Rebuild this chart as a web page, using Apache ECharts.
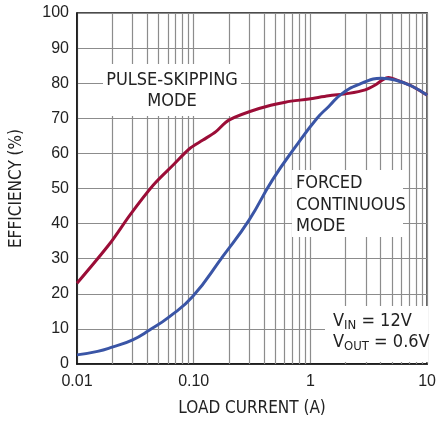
<!DOCTYPE html>
<html>
<head>
<meta charset="utf-8">
<script src="https://cdn.jsdelivr.net/npm/echarts@6/dist/echarts.min.js"></script>
<style>
  html, body { margin: 0; padding: 0; background: #fff; }
  #chart { width: 439px; height: 423px; }
</style>
</head>
<body>
<div id="chart"></div>
<script>
// load current (A) and efficiency (%)
const pulseLoad = [0.01, 0.0192, 0.0285, 0.0451, 0.0667, 0.0925, 0.12, 0.155, 0.2, 0.363, 0.61, 0.97, 1.43, 2.12, 2.95, 3.59, 4.22, 4.66, 5.31, 7.36, 10]
const pulseEff = [23, 34.4, 42.5, 51, 56.7, 61.4, 63.8, 66.2, 69.5, 72.8, 74.6, 75.5, 76.4, 77.1, 78.1, 79.5, 81.1, 81.6, 81.1, 79.2, 76.6]

const forcedLoad = [0.01, 0.015, 0.02, 0.03, 0.0419, 0.0621, 0.098, 0.177, 0.298, 0.472, 0.746, 1.14, 1.43, 1.88, 2.76, 4.07, 5.31, 7.36, 10]
const forcedEff = [2.6, 3.6, 4.8, 6.9, 9.7, 13.5, 19.2, 30.6, 41, 52.4, 61.9, 70, 73.3, 77.1, 80, 81.4, 80.9, 79.2, 76.6]

// minor vertical grid lines of the log axis
const minorTicks = [0.02, 0.03, 0.04, 0.05, 0.06, 0.07, 0.08, 0.09,
  0.2, 0.3, 0.4, 0.5, 0.6, 0.7, 0.8, 0.9,
  2, 3, 4, 5, 6, 7, 8, 9]
const xTickLabels = { 0.01: '0.01', 0.1: '0.10', 1: '1', 10: '10' }

const narrow = '"Liberation Sans Narrow", "DejaVu Sans Condensed", sans-serif'
const gridGray = '#8c8c8c'
const ink = '#222'

const chart = echarts.init(document.getElementById('chart'), null, { renderer: 'canvas' })

// white box with text over the grid lines
function labelBox(box, text) {
  return [
    { type: 'rect', zlevel: 1, z: 1, silent: true, shape: box, style: { fill: '#fff' } },
    Object.assign({ type: 'text', zlevel: 1, z: 2, silent: true }, text)
  ]
}

chart.setOption({
  backgroundColor: '#fff',
  animation: false,
  grid: {
    left: 77,
    top: 13,
    right: 10,
    bottom: 59,
    show: true,
    borderColor: '#111',
    borderWidth: 1.5
  },
  xAxis: {
    type: 'log',
    logBase: 10,
    min: 0.01,
    max: 10,
    name: 'LOAD CURRENT (A)',
    nameLocation: 'middle',
    nameGap: 36,
    nameTextStyle: { fontFamily: narrow, fontSize: 17, color: ink },
    axisLine: { show: true, lineStyle: { color: '#111', width: 1.5 } },
    axisTick: { show: false },
    axisLabel: {
      margin: 10,
      fontFamily: 'Liberation Sans, Arial, sans-serif',
      fontSize: 16,
      color: ink,
      formatter: v => xTickLabels[+v.toPrecision(3)] || ''
    },
    splitLine: { show: true, lineStyle: { color: gridGray, width: 1.2 } }
  },
  yAxis: {
    type: 'value',
    min: 0,
    max: 100,
    interval: 10,
    name: 'EFFICIENCY (%)',
    nameLocation: 'middle',
    nameGap: 52,
    nameTextStyle: { fontFamily: narrow, fontSize: 17, color: ink },
    axisLine: { show: true, lineStyle: { color: '#111', width: 1.5 } },
    axisTick: { show: false },
    axisLabel: {
      margin: 8,
      fontFamily: 'Liberation Sans, Arial, sans-serif',
      fontSize: 16,
      color: ink
    },
    splitLine: { show: true, lineStyle: { color: gridGray, width: 1.2 } }
  },
  graphic: [].concat(
    labelBox({ x: 103, y: 64, width: 138, height: 52 }, {
      x: 172, y: 91,
      style: {
        text: 'PULSE-SKIPPING\nMODE', fill: ink, font: '18px ' + narrow,
        align: 'center', verticalAlign: 'middle', lineHeight: 21
      }
    }),
    labelBox({ x: 292, y: 170, width: 111, height: 67 }, {
      x: 296, y: 205,
      style: {
        text: 'FORCED\nCONTINUOUS\nMODE', fill: ink, font: '18px ' + narrow,
        align: 'left', verticalAlign: 'middle', lineHeight: 21.5
      }
    }),
    labelBox({ x: 325, y: 306, width: 103, height: 56 }, {
      x: 333, y: 332,
      style: {
        text: '{m|V}{s|IN}{m| = 12V}\n{m|V}{s|OUT}{m| = 0.6V}',
        fill: ink, align: 'left', verticalAlign: 'middle',
        rich: {
          m: { fontFamily: narrow, fontSize: 18, lineHeight: 21, fill: ink },
          s: { fontFamily: narrow, fontSize: 13, lineHeight: 21, verticalAlign: 'bottom', padding: [9, 0, 0, 0], fill: ink }
        }
      }
    })
  ),
  series: [
    {
      name: 'grid',
      type: 'line',
      data: [],
      z: 1,
      silent: true,
      markLine: {
        silent: true,
        symbol: 'none',
        label: { show: false },
        lineStyle: { color: gridGray, width: 1.2, type: 'solid' },
        data: minorTicks.map(v => ({ xAxis: v }))
      }
    },
    {
      name: 'PULSE-SKIPPING',
      type: 'line',
      zlevel: 2,
      z: 5,
      smooth: 0.3,
      showSymbol: false,
      lineStyle: { color: '#9b0d37', width: 3 },
      data: pulseLoad.map((x, i) => [x, pulseEff[i]])
    },
    {
      name: 'FORCED CONTINUOUS',
      type: 'line',
      zlevel: 2,
      z: 6,
      smooth: 0.5,
      showSymbol: false,
      lineStyle: { color: '#3a55a6', width: 3 },
      data: forcedLoad.map((x, i) => [x, forcedEff[i]])
    }
  ]
})
</script>
</body>
</html>
